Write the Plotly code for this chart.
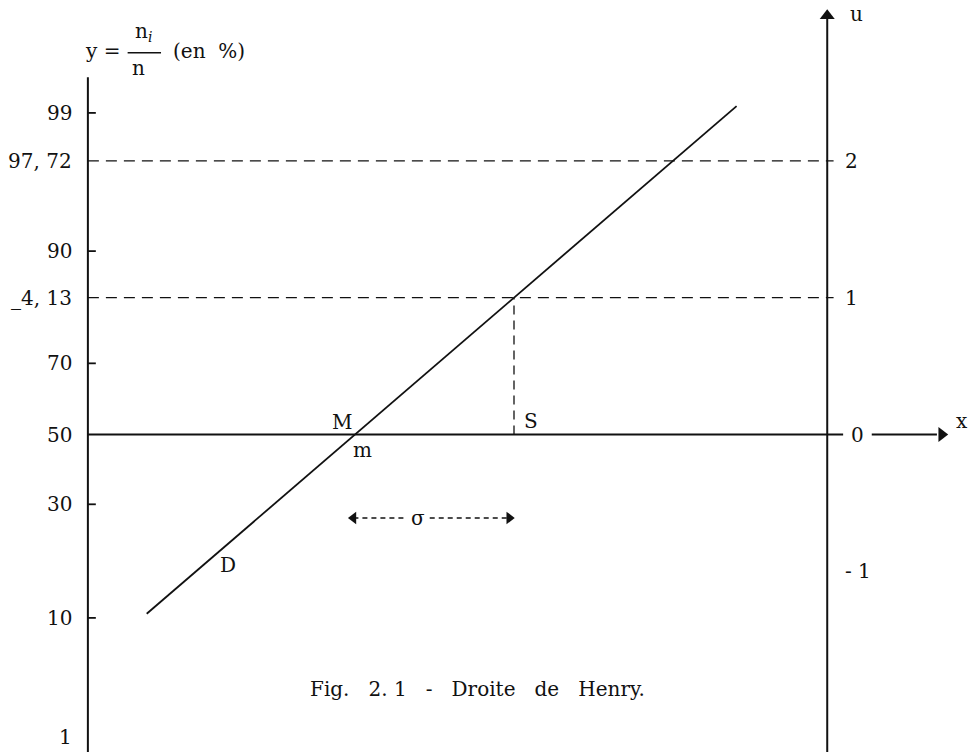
import plotly.graph_objects as go

# Henry line (normal probability plot): percentages on a probit scale,
# right-hand axis in reduced units u = (x - m) / sigma.
pct_labels = ["99", "97, 72", "90", "_4, 13", "70", "50", "30", "10", "1"]
pct_u = [2.35, 2.0, 1.34, 1.0, 0.52, 0.0, -0.51, -1.34, -2.21]
pct_ticked = [True, False, True, False, True, False, True, True, False]

u_labels = ["2", "1", "0", "- 1"]
u_values = [2, 1, 0, -1]

m = 0.0        # mean (point M on the x axis)
sigma = 1.0    # standard deviation
henry_x = [-1.31, 2.40]
henry_u = [(v - m) / sigma for v in henry_x]

# frame geometry (data units)
X_LEFT, X_RIGHT = -1.68, 2.97
U_BOTTOM, U_TOP = -2.32, 3.175
FONT = "DejaVu Serif"
INK = "#111111"

fig = go.Figure()

# Henry line D
fig.add_trace(go.Scatter(x=henry_x, y=henry_u, mode="lines",
                         line=dict(color=INK, width=1.8), hoverinfo="skip"))

shapes = []
# left axis (percentages)
shapes.append(dict(type="line", x0=X_LEFT, x1=X_LEFT, y0=U_BOTTOM, y1=2.61,
                   line=dict(color=INK, width=2)))
# right axis (u)
shapes.append(dict(type="line", x0=X_RIGHT, x1=X_RIGHT, y0=U_BOTTOM, y1=3.08,
                   line=dict(color=INK, width=2)))
# horizontal axis at 50 % / u = 0
shapes.append(dict(type="line", x0=X_LEFT, x1=3.07, y0=0, y1=0,
                   line=dict(color=INK, width=1.8)))
shapes.append(dict(type="line", x0=3.25, x1=3.66, y0=0, y1=0,
                   line=dict(color=INK, width=1.8)))
# left tick marks
for u, t in zip(pct_u, pct_ticked):
    if t:
        shapes.append(dict(type="line", x0=X_LEFT, x1=X_LEFT + 0.05, y0=u, y1=u,
                           line=dict(color=INK, width=1.8)))
# dashed reference lines at u = 2 and u = 1
for u in (2, 1):
    shapes.append(dict(type="line", x0=X_LEFT, x1=3.01, y0=u, y1=u,
                       line=dict(color=INK, width=1.3, dash="11px,7px")))
# vertical dashed line through S (x = m + sigma)
shapes.append(dict(type="line", x0=m + sigma, x1=m + sigma, y0=0, y1=1,
                   line=dict(color=INK, width=1.3, dash="9px,6px")))
# sigma span, dashed with arrowheads
shapes.append(dict(type="line", x0=m - 0.01, x1=m + 0.32, y0=-0.61, y1=-0.61,
                   line=dict(color=INK, width=1.3, dash="5px,4px")))
shapes.append(dict(type="line", x0=m + 0.47, x1=m + sigma - 0.04, y0=-0.61, y1=-0.61,
                   line=dict(color=INK, width=1.3, dash="5px,4px")))
# fraction bar of the y label
shapes.append(dict(type="line", x0=-1.43, x1=-1.22, y0=2.79, y1=2.79,
                   line=dict(color=INK, width=1.5)))
fig.update_layout(shapes=shapes)

# arrowheads
fig.add_trace(go.Scatter(x=[X_RIGHT], y=[3.06], mode="markers",
                         marker=dict(symbol="triangle-up", size=13, color=INK),
                         hoverinfo="skip"))
fig.add_trace(go.Scatter(x=[3.69], y=[0], mode="markers",
                         marker=dict(symbol="triangle-right", size=13, color=INK),
                         hoverinfo="skip"))
fig.add_trace(go.Scatter(x=[m - 0.01, m + sigma - 0.03], y=[-0.61, -0.61], mode="markers",
                         marker=dict(symbol=["triangle-left", "triangle-right"], size=11,
                                     color=INK),
                         hoverinfo="skip"))

ann = []

def text(x, y, s, size=20, xanchor="center", yanchor="middle"):
    ann.append(dict(x=x, y=y, xref="x", yref="y", text=s, showarrow=False,
                    xanchor=xanchor, yanchor=yanchor,
                    font=dict(family=FONT, size=size, color=INK)))

# percentage labels
for lab, u in zip(pct_labels, pct_u):
    text(-1.77, u, lab, xanchor="right")
# u labels on the right axis
for lab, u in zip(u_labels, u_values):
    if u == 0:
        text(3.16, u, lab)
    else:
        text(3.07, u, lab, xanchor="left")

# axis names
text(3.10, 3.07, "u", xanchor="left")
text(3.82, 0.10, "x")
text(-1.59, 2.80, "y =")
text(-1.33, 2.94, "n<sub><i>i</i></sub>")
text(-1.36, 2.68, "n")
text(-0.92, 2.80, "(en  %)")

# point names
text(-0.08, 0.09, "M")
text(0.05, -0.11, "m")
text(1.11, 0.10, "S")
text(-0.80, -0.95, "D")
text(0.395, -0.61, "σ")

# caption
text(0.77, -1.86, "Fig.   2. 1   -   Droite   de   Henry.", size=20)

fig.update_layout(
    annotations=ann,
    width=969, height=752, autosize=False,
    margin=dict(l=0, r=0, t=0, b=0),
    paper_bgcolor="white", plot_bgcolor="white",
    showlegend=False,
    xaxis=dict(range=[-355 / 159, 614 / 159], visible=False, fixedrange=True),
    yaxis=dict(range=[U_BOTTOM, U_TOP], visible=False, fixedrange=True),
)

fig.write_html("out.html")
